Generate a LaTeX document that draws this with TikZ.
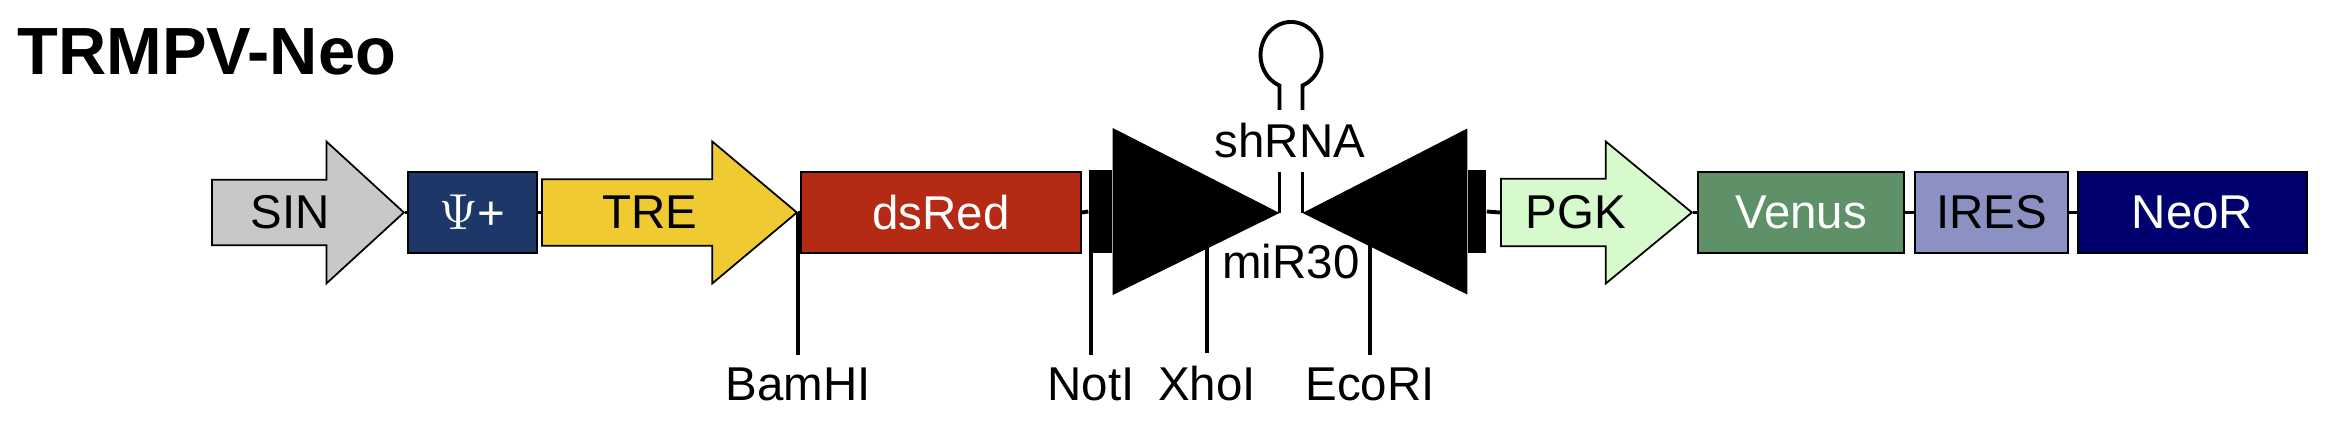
\documentclass[tikz,border=0pt]{standalone}
\usepackage{fontspec}
\setmainfont{Liberation Sans}
\usepackage{tikz}
\usetikzlibrary{shapes.arrows, positioning, calc}
\definecolor{sinfill}{RGB}{200,200,200}
\definecolor{psifill}{RGB}{30,55,105}
\definecolor{trefill}{RGB}{240,202,50}
\definecolor{redfill}{RGB}{180,42,20}
\definecolor{pgkfill}{RGB}{215,250,205}
\definecolor{venusfill}{RGB}{95,145,105}
\definecolor{iresfill}{RGB}{140,145,195}
\definecolor{neofill}{RGB}{0,0,110}
\newcommand{\genefont}{\fontsize{13.5}{16}\selectfont}
\tikzset{
  part/.style={rectangle, draw=black, line width=0.5pt,
    minimum height=0.81cm, inner sep=0pt, font=\genefont},
  promoter/.style={single arrow, draw=black, line width=0.5pt,
    minimum width=1.42cm, single arrow head extend=0.2cm,
    inner sep=0pt, anchor=tail, font=\genefont},
  site/.style={anchor=base, font=\genefont},
  flank/.style={rectangle, fill=black, inner sep=0pt, minimum height=0.82cm},
  backbone/.style={line width=1.1pt},
  cut/.style={line width=0.9pt}
}

\begin{document}
\begin{tikzpicture}
  \useasboundingbox (0,0) rectangle (23.45,-4.36);
  \node[anchor=base west, inner sep=0pt, font=\bfseries\fontsize{19}{22}\selectfont] (title) at (0.17,-0.75) {TRMPV-Neo};

  % Cassette elements
  \node[promoter, fill=sinfill, minimum height=1.92cm, single arrow tip angle=85,
    single arrow head extend=0.206cm] (sin) at (2.11,-2.125) {SIN};
  \node[part, fill=psifill, text=white, minimum width=1.29cm] (psi) at (4.725,-2.125) {$\Psi$+};
  \node[promoter, fill=trefill, minimum height=2.55cm, single arrow tip angle=80,
    single arrow head extend=0.196cm] (tre) at (5.41,-2.125) {TRE};
  \node[part, fill=redfill, text=white, minimum width=2.80cm] (dsred) at (9.41,-2.125) {dsRed};
  \node[promoter, fill=pgkfill, minimum height=1.91cm, single arrow tip angle=79,
    single arrow head extend=0.194cm] (pgk) at (15.00,-2.125) {PGK};
  \node[part, fill=venusfill, text=white, minimum width=2.06cm] (venus) at (18.01,-2.125) {Venus};
  \node[part, fill=iresfill, minimum width=1.53cm] (ires) at (19.915,-2.125) {IRES};
  \node[part, fill=neofill, text=white, minimum width=2.29cm] (neo) at (21.925,-2.125) {NeoR};

  % Restriction sites
  \node[site] (bam) at (7.98,-4.00) {BamHI};
  \node[site] (notI) at (10.91,-4.00) {NotI};
  \node[site] (xho) at (12.07,-4.00) {XhoI};
  \node[site] (eco) at (13.70,-4.00) {EcoRI};
  \draw[cut] (bam.north) -- (bam.north |- dsred.center);
  \draw[cut] (notI.north) -- (notI.north |- dsred.center);
  \draw[cut] (xho.north) -- (xho.north |- dsred.center);
  \draw[cut] (eco.north) -- (eco.north |- dsred.center);

  % miR30 flanks
  \node[flank, minimum width=0.23cm] (mirl) at (11.005,-2.115) {};
  \node[flank, minimum width=0.18cm] (mirr) at (14.77,-2.115) {};
  \fill (mirl.east) ++(0,0.835) -- (12.795,-2.13) -- ($(mirl.east)+(0,-0.835)$) -- cycle;
  \fill (mirr.west) ++(0,0.83) -- (13.025,-2.13) -- ($(mirr.west)+(0,-0.83)$) -- cycle;
  \node[site] (mir) at (12.91,-2.78) {miR30};

  % shRNA hairpin
  \draw[backbone] (12.795,-2.13) -- (12.795,-1.72);
  \draw[backbone] (13.025,-2.13) -- (13.025,-1.72);
  \node[site] (sh) at (12.90,-1.57) {shRNA};
  \draw[backbone] (12.795,-1.10) -- (12.795,-0.855)
    arc[start angle=247.8, end angle=-67.8, x radius=0.305cm, y radius=0.33cm] -- (13.025,-1.10);

  % Backbone
  \draw[backbone] (sin.tip) -- (psi.west);
  \draw[backbone] (psi.east) -- (tre.tail);
  \draw[backbone] (tre.tip) -- (dsred.west);
  \draw[backbone] (dsred.east) -- (mirl.west);
  \draw[backbone] (mirr.east) -- (pgk.tail);
  \draw[backbone] (pgk.tip) -- (venus.west);
  \draw[backbone] (venus.east) -- (ires.west);
  \draw[backbone] (ires.east) -- (neo.west);
\end{tikzpicture}
\end{document}
